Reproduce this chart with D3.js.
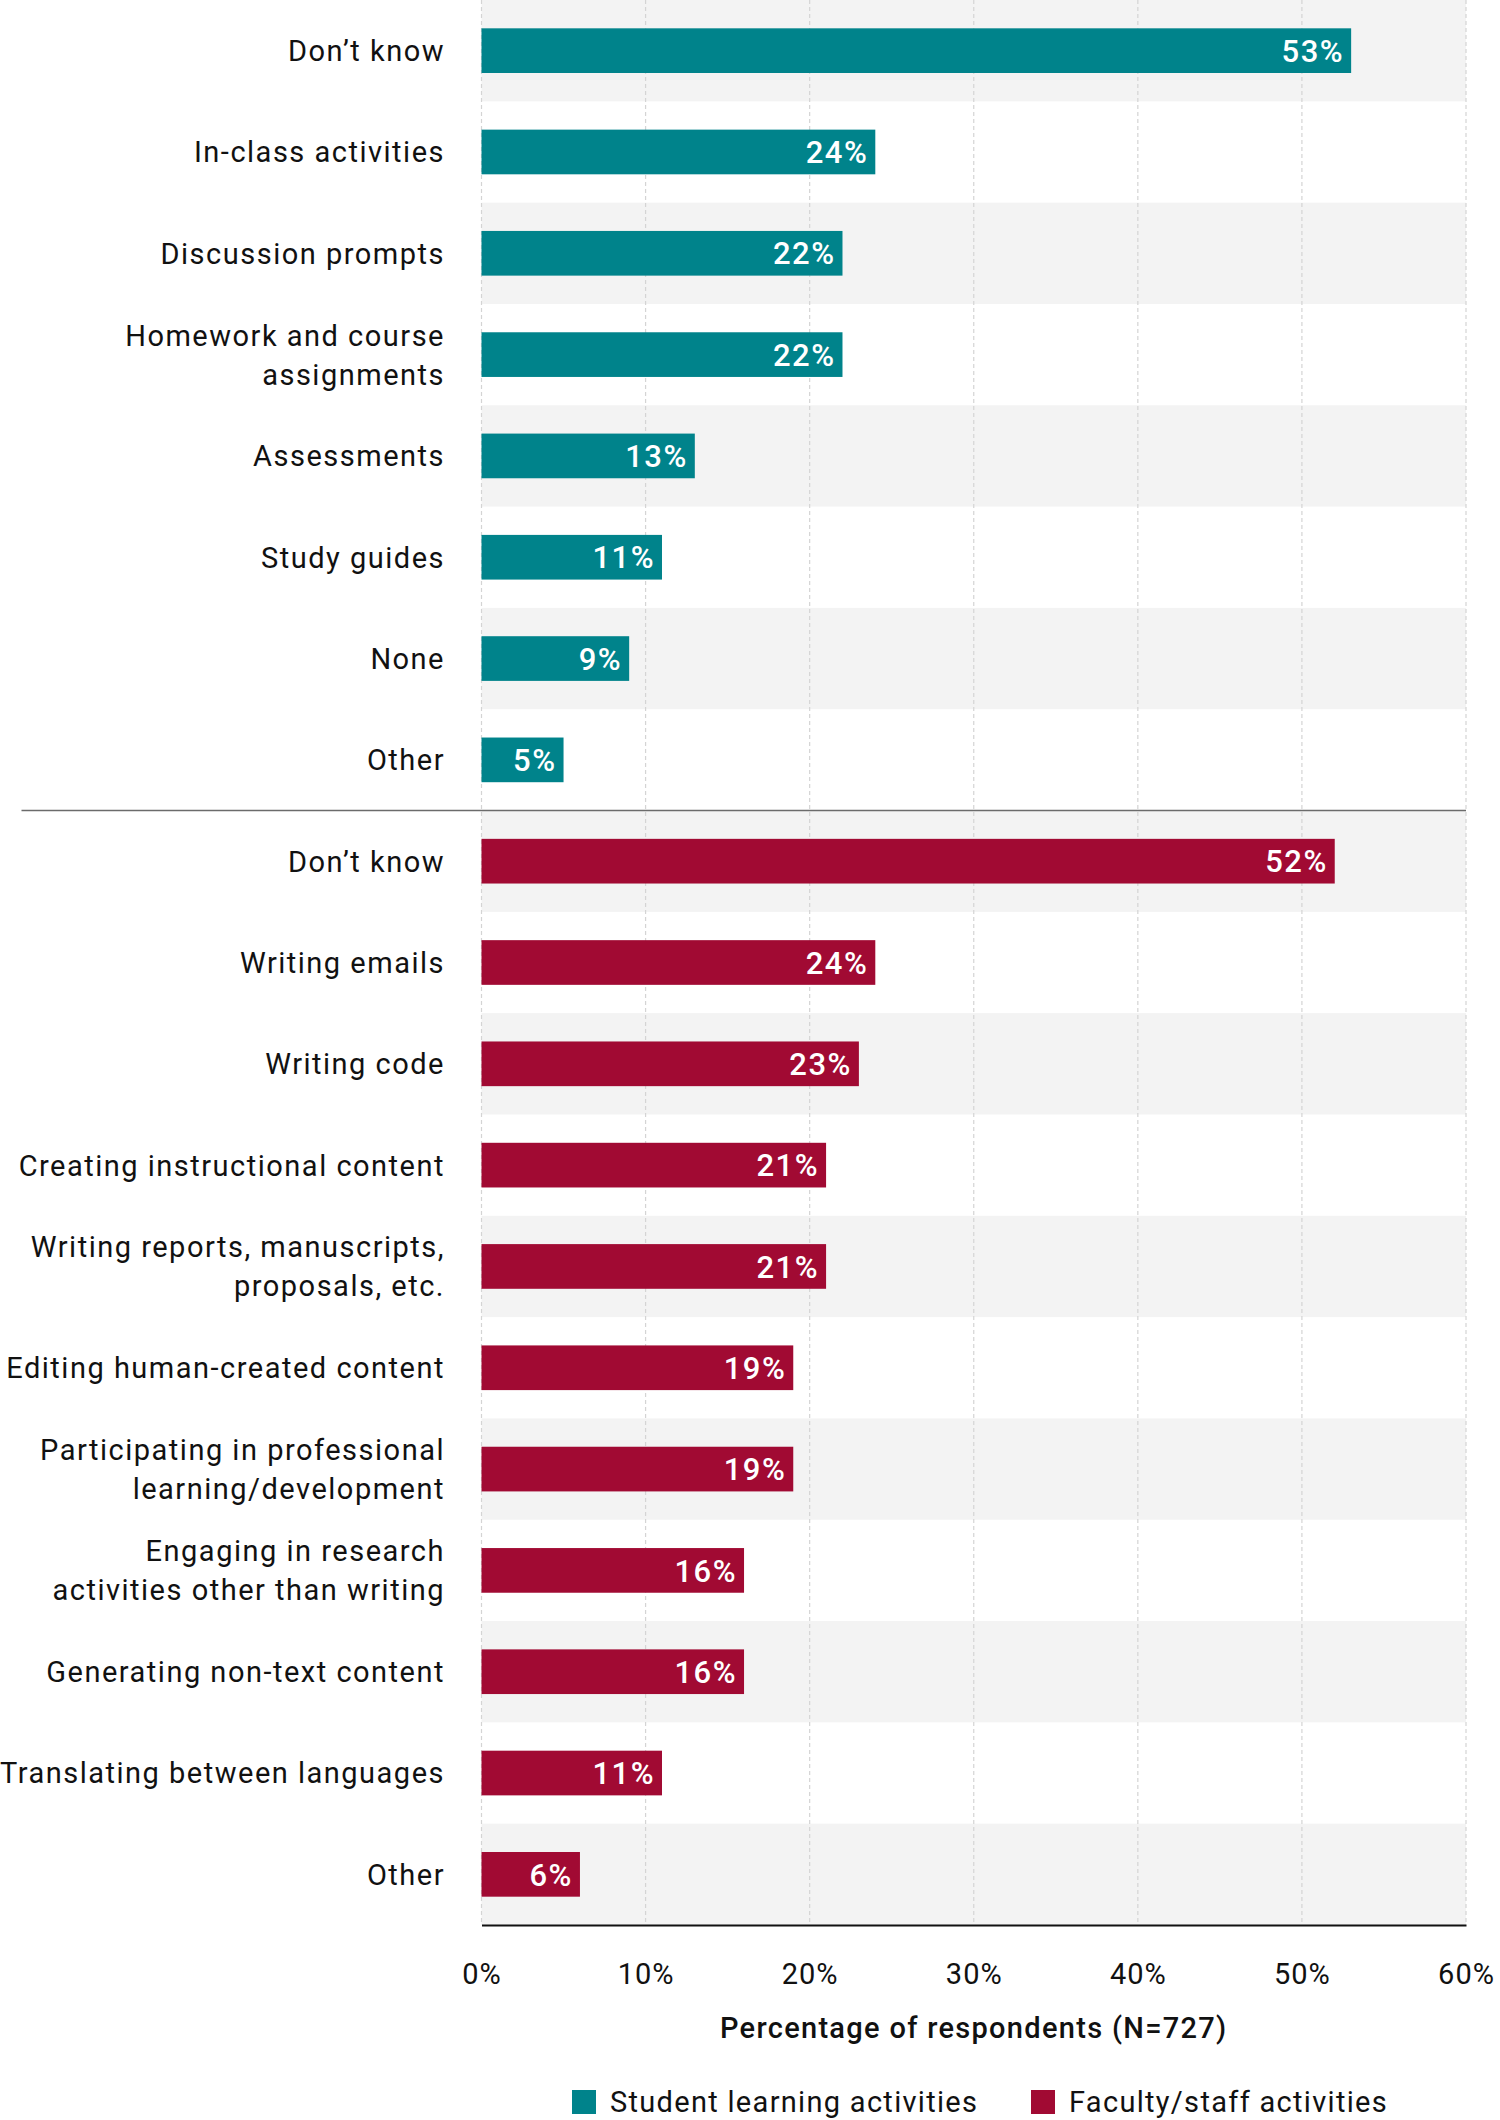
<!DOCTYPE html>
<html>
<head>
<meta charset="utf-8">
<script src="https://cdn.jsdelivr.net/npm/d3@7"></script>
<style>
  html, body { margin: 0; padding: 0; background: #fff; }
  svg { display: block; }
  text { font-family: Roboto, "Noto Sans", sans-serif; }
</style>
</head>
<body>
<svg id="chart" width="1500" height="2120"></svg>
<script>
// ---- Data ----
const studentCategories = [
  "Don’t know",
  "In-class activities",
  "Discussion prompts",
  "Homework and course\nassignments",
  "Assessments",
  "Study guides",
  "None",
  "Other"
];
const studentValues = [53, 24, 22, 22, 13, 11, 9, 5];

const facultyCategories = [
  "Don’t know",
  "Writing emails",
  "Writing code",
  "Creating instructional content",
  "Writing reports, manuscripts,\nproposals, etc.",
  "Editing human-created content",
  "Participating in professional\nlearning/development",
  "Engaging in research\nactivities other than writing",
  "Generating non-text content",
  "Translating between languages",
  "Other"
];
const facultyValues = [52, 24, 23, 21, 21, 19, 19, 16, 16, 11, 6];

const seriesNames = ["Student learning activities", "Faculty/staff activities"];
const seriesColors = ["#00838b", "#a10a33"];
const xTicks = [0, 10, 20, 30, 40, 50, 60];
const axisTitle = "Percentage of respondents (N=727)";

// ---- Build rows ----
const rows = [];
studentCategories.forEach((c, i) => rows.push({ label: c, value: studentValues[i], series: 0 }));
facultyCategories.forEach((c, i) => rows.push({ label: c, value: facultyValues[i], series: 1 }));
rows.forEach((r, i) => r.idx = i);

// ---- Layout ----
const plotLeft = 481.5, plotRight = 1466, plotTop = 0, plotBottom = 1925;
const labelRight = 445;
const svg = d3.select("#chart");

const x = d3.scaleLinear().domain([0, 60]).range([plotLeft, plotRight]);
const y = d3.scaleBand().domain(rows.map(r => r.idx)).range([plotTop, plotBottom]).padding(0);
const bh = y.bandwidth();
const barH = bh * 0.441;

// alternating background bands
svg.append("g").selectAll("rect")
  .data(rows.filter(r => r.idx % 2 === 0))
  .join("rect")
  .attr("x", plotLeft)
  .attr("y", r => y(r.idx))
  .attr("width", plotRight - plotLeft)
  .attr("height", bh)
  .attr("fill", "#f3f3f3");

// gridlines
svg.append("g").selectAll("line")
  .data(xTicks)
  .join("line")
  .attr("x1", d => x(d)).attr("x2", d => x(d))
  .attr("y1", plotTop).attr("y2", plotBottom)
  .attr("stroke", "#d4d4d4")
  .attr("stroke-width", 1.2)
  .attr("stroke-dasharray", "4,3");

// bars
svg.append("g").selectAll("rect")
  .data(rows)
  .join("rect")
  .attr("x", x(0))
  .attr("y", r => y(r.idx) + (bh - barH) / 2)
  .attr("width", r => x(r.value) - x(0))
  .attr("height", barH)
  .attr("fill", r => seriesColors[r.series]);

// value labels
svg.append("g").selectAll("text")
  .data(rows)
  .join("text")
  .attr("x", r => x(r.value) - 7)
  .attr("y", r => y(r.idx) + bh / 2)
  .attr("dy", "0.36em")
  .attr("text-anchor", "end")
  .attr("fill", "#fff")
  .style("font-size", "31px")
  .style("font-weight", 500)
  .style("letter-spacing", "1.5px")
  .text(r => r.value + "%");

// category labels
const lineH = 39;
const catG = svg.append("g");
rows.forEach(r => {
  const lines = r.label.split("\n");
  const cy = y(r.idx) + bh / 2;
  const t = catG.append("text")
    .attr("text-anchor", "end")
    .attr("fill", "#111")
    .style("font-size", "29px")
    .style("letter-spacing", "1.5px");
  lines.forEach((ln, i) => {
    t.append("tspan")
      .attr("x", labelRight)
      .attr("y", cy + (i - (lines.length - 1) / 2) * lineH)
      .attr("dy", "0.36em")
      .text(ln);
  });
});

// separator between groups
const sepY = y(studentCategories.length);
svg.append("line")
  .attr("x1", 21.5).attr("x2", plotRight)
  .attr("y1", sepY).attr("y2", sepY)
  .attr("stroke", "#6b6b6b")
  .attr("stroke-width", 1.6);

// bottom axis
const axis = d3.axisBottom(x).tickValues(xTicks).tickFormat(d => d + "%").tickSize(0).tickPadding(59);
const axG = svg.append("g").attr("transform", `translate(0,${plotBottom})`).call(axis);
axG.select(".domain").attr("stroke", "#111").attr("stroke-width", 2);
axG.selectAll("text")
  .attr("fill", "#111")
  .style("font-family", "Roboto, sans-serif")
  .style("font-size", "29px")
  .style("letter-spacing", "1px")
  .attr("dy", "0");

// axis title
svg.append("text")
  .attr("x", (plotLeft + plotRight) / 2)
  .attr("y", 2038)
  .attr("text-anchor", "middle")
  .attr("fill", "#111")
  .style("font-size", "29px")
  .style("font-weight", 500)
  .style("letter-spacing", "1.3px")
  .text(axisTitle);

// legend
const legend = svg.append("g");
const legendItems = [
  { name: seriesNames[0], color: seriesColors[0], x: 572 },
  { name: seriesNames[1], color: seriesColors[1], x: 1031 }
];
legendItems.forEach(li => {
  legend.append("rect")
    .attr("x", li.x).attr("y", 2090)
    .attr("width", 24).attr("height", 24)
    .attr("fill", li.color);
  legend.append("text")
    .attr("x", li.x + 38)
    .attr("y", 2102)
    .attr("dy", "0.36em")
    .attr("fill", "#111")
    .style("font-size", "29px")
    .style("letter-spacing", "1.3px")
    .text(li.name);
});
</script>
</body>
</html>
